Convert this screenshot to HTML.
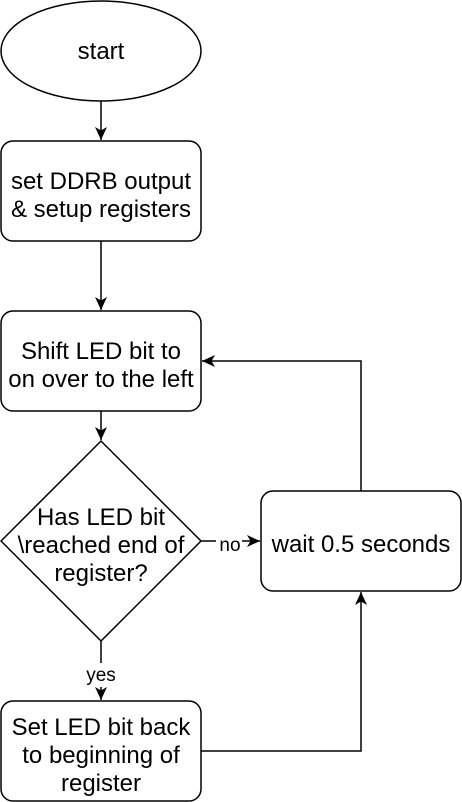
<!DOCTYPE html>
<html><head><style>
html,body{margin:0;padding:0;background:#fff;}
svg{display:block;}
text{font-family:"Liberation Sans",Arial,sans-serif;font-size:24px;fill:#000;}
</style></head><body>
<svg width="462" height="802" viewBox="0 0 462 802">
<defs><marker id="a" markerWidth="14" markerHeight="14" refX="13" refY="6" orient="auto" markerUnits="userSpaceOnUse"><path d="M0,0 L13,6 L0,12 L3.5,6 Z" fill="#000"/></marker></defs>
<g fill="#fff" stroke="#000" stroke-width="1.5">
<ellipse cx="101" cy="51" rx="100" ry="50"/>
<rect x="1" y="141" width="200" height="100" rx="12"/>
<rect x="1" y="311" width="200" height="100" rx="12"/>
<path d="M101,441 L201,541 L101,641 L1,541 Z"/>
<rect x="261" y="491" width="200" height="100" rx="12"/>
<rect x="1" y="701" width="200" height="100" rx="12"/>
</g>
<g fill="none" stroke="#000" stroke-width="1.5">
<path d="M101,101 V140" marker-end="url(#a)"/>
<path d="M101,241 V310" marker-end="url(#a)"/>
<path d="M101,411 V440" marker-end="url(#a)"/>
<path d="M201,541 H260" marker-end="url(#a)"/>
<path d="M361,491 V361 H202" marker-end="url(#a)"/>
<path d="M101,641 V700" marker-end="url(#a)"/>
<path d="M201,751 H361 V592" marker-end="url(#a)"/>
</g>
<rect x="216" y="533" width="26" height="22" fill="#fff"/>
<rect x="82" y="663" width="38" height="24" fill="#fff"/>
<g text-anchor="middle">
<text x="101" y="59">start</text>
<text x="101" y="189">set DDRB output</text>
<text x="101" y="217">&amp; setup registers</text>
<text x="101" y="359">Shift LED bit to</text>
<text x="101" y="387">on over to the left</text>
<text x="101" y="525">Has LED bit</text>
<text x="101" y="553">\reached end of</text>
<text x="101" y="581">register?</text>
<text x="361" y="552">wait 0.5 seconds</text>
<text x="101" y="735">Set LED bit back</text>
<text x="101" y="763">to beginning of</text>
<text x="101" y="791">register</text>
<text x="230" y="551" style="font-size:19px">no</text>
<text x="101" y="681" style="font-size:19px">yes</text>
</g>
</svg>
</body></html>
